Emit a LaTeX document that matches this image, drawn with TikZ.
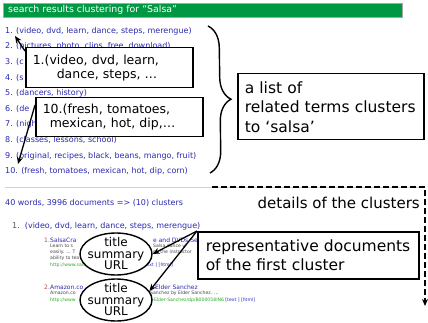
\documentclass[tikz,border=0pt]{standalone}
\usepackage{fontspec}
\setmainfont{DejaVu Sans}
\usetikzlibrary{arrows.meta,decorations.pathreplacing,shapes.geometric,calc}
\definecolor{barGreen}{RGB}{0,152,66}
\definecolor{linkBlue}{RGB}{42,42,178}
\definecolor{snipGray}{RGB}{70,70,70}
\definecolor{urlGreen}{RGB}{40,170,40}
\definecolor{numRed}{RGB}{190,70,60}
\definecolor{numGray}{RGB}{90,90,90}
\begin{document}
\begin{tikzpicture}[x=1pt,y=-1pt,
  item/.style={anchor=west, inner sep=0pt, text=linkBlue, font=\fontsize{8}{9}\selectfont},
  snip/.style={anchor=west, inner sep=0pt, text=snipGray, font=\fontsize{4.6}{5}\selectfont},
  url/.style={snip, text=urlGreen},
  doctitle/.style={anchor=west, inner sep=0pt, text=linkBlue, font=\fontsize{6}{7}\selectfont},
  callout/.style={draw=black, line width=1.5pt, fill=white, anchor=north west,
    inner xsep=7pt, inner ysep=0pt, align=left},
  tag/.style={ellipse, draw=black, line width=1.4pt, fill=white, inner sep=-8pt,
    minimum width=72pt, minimum height=42pt, align=center,
    font=\fontsize{12}{11.5}\selectfont},
  pointer/.style={draw=black, line width=1.3pt, -{Stealth[length=7pt,width=6pt]}},
]
\useasboundingbox[fill=white] (0,0) rectangle (428,323);

% header bar
\node[draw=gray!70, line width=0.8pt, fill=barGreen, minimum width=399pt,
  minimum height=14pt, anchor=north west, inner sep=0pt] (bar) at (3,3) {};
\node[anchor=west, inner sep=0pt, text=white, font=\fontsize{9.4}{10}\selectfont]
  (bartext) at (8,10) {search results clustering for “Salsa”};

% list of term clusters
\node[item] (c1)  at (5,31)    {1. (video, dvd, learn, dance, steps, merengue)};
\node[item] (c2)  at (5,46.6)  {2. (pictures, photo, clips, free, download)};
\node[item] (c3)  at (5,62.2)  {3. (c};
\node[item] (c4)  at (5,77.8)  {4. (s};
\node[item] (c5)  at (5,93.4)  {5. (dancers, history)};
\node[item] (c6)  at (5,109)   {6. (de};
\node[item] (c7)  at (5,124.6) {7. (nigh};
\node[item] (c8)  at (5,140.2) {8. (classes, lessons, school)};
\node[item] (c9)  at (5,155.8) {9. (original, recipes, black, beans, mango, fruit)};
\node[item] (c10) at (5,171.4) {10. (fresh, tomatoes, mexican, hot, dip, corn)};

% separator between the two parts of the page
\coordinate (sepL) at (5,187);
\coordinate (sepR) at (425,187);
\draw[gray!35, line width=0.8pt] (sepL) -- (sepR);

% cluster details
\node[item] (stats) at (5,203) {40 words, 3996 documents => (10) clusters};
\node[item] (d1) at (12,226) {\textcolor{numGray}{1.}\ \ (video, dvd, learn, dance, steps, merengue)};

% first document
\node[doctitle, text=numRed] (r1n) at (44,240) {1.};
\node[doctitle] (r1t) at (50,240) {SalsaCra};
\node[doctitle] (r1tb) at (153,240) {e and DVDs Se};
\node[snip] (r1a) at (50,246) {Learn to s};
\node[snip] (r1ab) at (153,246) {Salsa dance vi};
\node[snip] (r1b) at (50,252) {easily. ... T};
\node[snip] (r1bb) at (153,252) {gh the instructor};
\node[snip] (r1c) at (50,258) {ability to tea};
\node[url] (r1u) at (50,265) {http://www.salsa};
\node[snip, text=linkBlue, anchor=east] (r1l) at (173,265) {[text ] [html]};

% second document
\node[doctitle, text=numRed] (r2n) at (44,287) {2.};
\node[doctitle] (r2t) at (50,287) {Amazon.co};
\node[doctitle] (r2tb) at (155,287) {Elder Sanchez};
\node[snip] (r2a) at (50,293) {Amazon.co};
\node[snip] (r2ab) at (150,293) {Sanchez by Elder Sanchez. ...};
\node[url] (r2u) at (50,300) {http://www};
\node[url] (r2ub) at (150,300) {=Elder-Sanchez/dp/B000058IN6 \textcolor{linkBlue}{[text ] [html]}};

% callout boxes over the list
\node[callout, minimum width=167pt, minimum height=40pt, text width=153pt,
  font=\fontsize{12.5}{14}\selectfont] (box1) at (25,47)
  {1.(video, dvd, learn,\\\hspace*{24pt}dance, steps, …};
\node[callout, minimum width=167pt, minimum height=39pt, text width=153pt,
  font=\fontsize{12.5}{14.5}\selectfont] (box10) at (35,97)
  {10.(fresh, tomatoes,\\\hspace*{7pt}mexican, hot, dip,…};

\coordinate (tip1) at (15,36);
\coordinate (tip10) at (18,164);
\draw[pointer] ($(box1.north west)+(0,4)$) -- (tip1);
\draw[pointer] ($(box10.north west)+(0,8)$) -- (tip10);

% brace grouping the list
\coordinate (braceTop) at (208,26);
\coordinate (braceBot) at (210,173);
\draw[line width=1.4pt, decorate, decoration={brace, amplitude=22pt, aspect=0.5}]
  (braceTop) -- (braceBot);

\node[callout, minimum width=186pt, minimum height=66pt, text width=172pt,
  inner xsep=6pt, font=\fontsize{15.5}{19.5}\selectfont] (listbox) at (237,73)
  {a list of\\related terms clusters\\to ‘salsa’};

% details marker
\coordinate (dashA) at (212,187);
\coordinate (dashB) at (425,187);
\coordinate (dashC) at (425,306);
\draw[line width=1.6pt, dash pattern=on 6pt off 3pt, -{Stealth[length=7pt,width=6pt]}]
  (dashA) -- (dashB) -- (dashC);
\node[anchor=east, inner sep=0pt, font=\fontsize{15}{18}\selectfont] (dettxt) at (420,203)
  {details of the clusters};

% document annotations
\node[tag] (e1) at (116,254) {title\\summary\\URL};
\node[tag] (e2) at (116,300) {title\\summary\\URL};

\node[callout, minimum width=221pt, minimum height=47pt, text width=205pt,
  inner xsep=8pt, font=\fontsize{15.5}{19}\selectfont] (repbox) at (197,231)
  {representative documents\\of the first cluster};

\draw[pointer] (repbox.north west) -- (e1.east);
\draw[pointer] (repbox.north west) -- (e2.15);
\end{tikzpicture}
\end{document}
